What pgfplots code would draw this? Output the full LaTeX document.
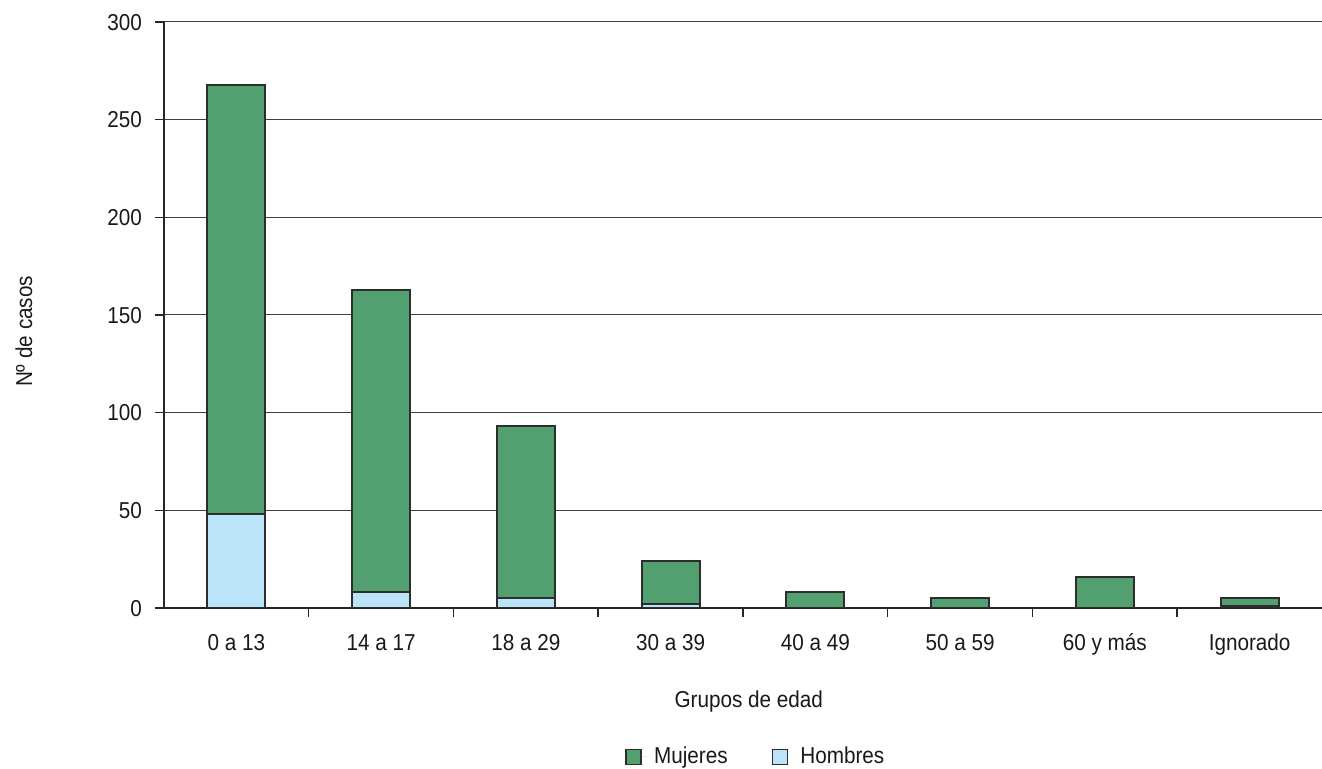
\documentclass[border=0pt]{standalone}
\usepackage{fontspec}
\setmainfont{Liberation Sans}[FakeStretch=0.9]
\usepackage{pgfplots}
\pgfplotsset{compat=1.18}
\definecolor{mujer}{RGB}{82,160,112}
\definecolor{hombre}{RGB}{188,228,248}
\definecolor{edge}{RGB}{45,45,45}
\begin{document}
\begin{tikzpicture}
\useasboundingbox (-82pt,-80.5pt) rectangle (579pt,304pt);
\begin{axis}[
  scale only axis, width=579pt, height=293pt,
  at={(0,0)}, anchor=south west,
  ybar stacked, bar width=29pt,
  xmin=-0.5, xmax=7.5, ymin=0, ymax=300,
  axis x line*=bottom, axis y line*=left,
  axis line style={line width=0.75pt, draw=black!85},
  tick align=outside, major tick length=4.5pt,
  tick style={line width=0.75pt, draw=black!85},
  ytick={0,50,...,300},
  xtick={0.5,1.5,...,6.5}, xticklabels={},
  extra x ticks={0,1,2,3,4,5,6,7},
  extra x tick labels={0 a 13,14 a 17,18 a 29,30 a 39,40 a 49,50 a 59,60 y más,Ignorado},
  extra x tick style={major tick length=0pt, grid=none},
  ymajorgrids, grid style={draw=black!75, line width=0.5pt},
  /pgf/number format/assume math mode=true,
  ticklabel style={font=\fontsize{11.5}{13}\selectfont, text=black!90},
  typeset ticklabels with strut,
  xticklabel style={yshift=-8.5pt},
  yticklabel style={xshift=-3pt, yshift=-1.5pt},
  xlabel={Grupos de edad}, ylabel={Nº de casos},
  label style={font=\fontsize{11.5}{13}\selectfont, text=black!90},
  xlabel style={at={(axis description cs:0.505,-0.1706)}, anchor=base},
  ylabel style={at={(axis description cs:-0.1209,0.472)}, anchor=center},
  reverse legend, legend columns=2,
  legend style={draw=none, at={(axis description cs:0.512,0)}, anchor=center, yshift=-74.5pt,
    font=\fontsize{11.5}{13}\selectfont, text=black!90,
    /tikz/every even column/.append style={column sep=20pt}},
  legend image code/.code={\draw[#1, line width=0.6pt] (0pt,-3.75pt) rectangle (7.5pt,3.75pt);
    \path[draw=none] (0pt,0pt) -- (12pt,0pt);},
  every axis plot/.append style={draw=edge, line width=1pt},
]
\addplot[fill=hombre] coordinates {(0,48) (1,8) (2,5) (3,2) (4,0) (5,0) (6,0) (7,1)};
\addlegendentry{Hombres}
\addplot[fill=mujer] coordinates {(0,220) (1,155) (2,88) (3,22) (4,8) (5,5) (6,16) (7,4)};
\addlegendentry{Mujeres}
\end{axis}
\end{tikzpicture}
\end{document}
